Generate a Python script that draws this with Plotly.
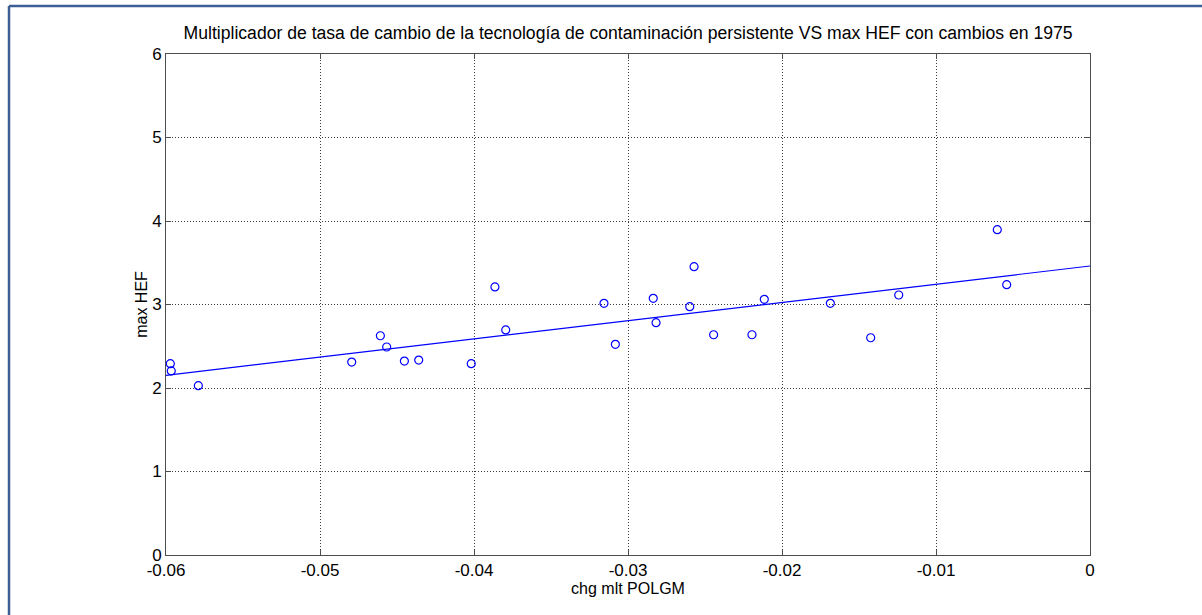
import plotly.graph_objects as go

# Scatter points.
chg_mlt_polgm = [
    -0.05972, -0.05966, -0.0579, -0.04794, -0.04608, -0.04567, -0.04452, -0.04359,
    -0.04018, -0.03864, -0.03794, -0.03156, -0.03082, -0.02836, -0.02818, -0.02571,
    -0.02599, -0.02444, -0.02195, -0.02115, -0.01686, -0.01424, -0.01242, -0.00602,
    -0.00541,
]
max_hef = [
    2.291, 2.204, 2.028, 2.311, 2.626, 2.491, 2.323, 2.335,
    2.291, 3.21, 2.695, 3.014, 2.523, 3.074, 2.782, 3.453,
    2.974, 2.638, 2.638, 3.062, 3.014, 2.602, 3.114, 3.896,
    3.237,
]

# Fitted line end points (as drawn).
fit_x = [-0.06, 0.0]
fit_y = [2.152, 3.461]

x_ticks = [-0.06, -0.05, -0.04, -0.03, -0.02, -0.01, 0]
x_ticklabels = ["-0.06", "-0.05", "-0.04", "-0.03", "-0.02", "-0.01", "0"]
y_ticks = [0, 1, 2, 3, 4, 5, 6]

BLUE = "#0000FF"
AXIS = "#4d4d4d"
GRID = "#3a3a3a"
FRAME = "#3d5f95"
FONT = "Liberation Sans, Arial, sans-serif"

fig = go.Figure()
fig.add_trace(go.Scatter(
    x=chg_mlt_polgm, y=max_hef, mode="markers",
    marker=dict(symbol="circle-open", size=8, color=BLUE, line=dict(width=1.2, color=BLUE)),
    showlegend=False,
))
fig.add_trace(go.Scatter(
    x=fit_x, y=fit_y, mode="lines",
    line=dict(color=BLUE, width=1.2),
    showlegend=False,
))

axis_common = dict(
    showline=True, linecolor=AXIS, linewidth=1, mirror="allticks",
    ticks="inside", ticklen=5, tickcolor=AXIS,
    showgrid=True, gridcolor=GRID, griddash="1px,2px", gridwidth=1,
    zeroline=False, tickfont=dict(size=17, color="black", family=FONT),
)

fig.update_layout(
    width=1202, height=615,
    paper_bgcolor="white", plot_bgcolor="white",
    font=dict(family=FONT, color="black"),
    margin=dict(l=166, r=112, t=54, b=60),
    title=dict(
        text="Multiplicador de tasa de cambio de la tecnología de contaminación persistente VS max HEF con cambios en 1975",
        x=0.5225, xanchor="center", y=0.947, yanchor="middle",
        font=dict(size=17.6, color="black"),
    ),
    xaxis=dict(
        range=[-0.06, 0], tickvals=x_ticks, ticktext=x_ticklabels,
        title=dict(text="chg mlt POLGM", font=dict(size=16), standoff=0),
        **axis_common,
    ),
    yaxis=dict(
        range=[0, 6], tickvals=y_ticks,
        title=dict(text="max HEF", font=dict(size=16), standoff=0),
        **axis_common,
    ),
    shapes=[
        # cropped window frame: only the top and left edges are visible
        dict(type="line", xref="paper", yref="paper",
             x0=(9 - 166) / 924, x1=(1202 - 166) / 924,
             y0=1 + (54 - 6) / 501, y1=1 + (54 - 6) / 501,
             line=dict(color=FRAME, width=2.5)),
        dict(type="line", xref="paper", yref="paper",
             x0=(9 - 166) / 924, x1=(9 - 166) / 924,
             y0=1 + (54 - 6) / 501, y1=-(615 - 555) / 501,
             line=dict(color=FRAME, width=2.5)),
    ],
)

fig.write_html(
    "out.html",
    config={"displayModeBar": False},
    post_script="document.body.style.margin='0px';",
)
